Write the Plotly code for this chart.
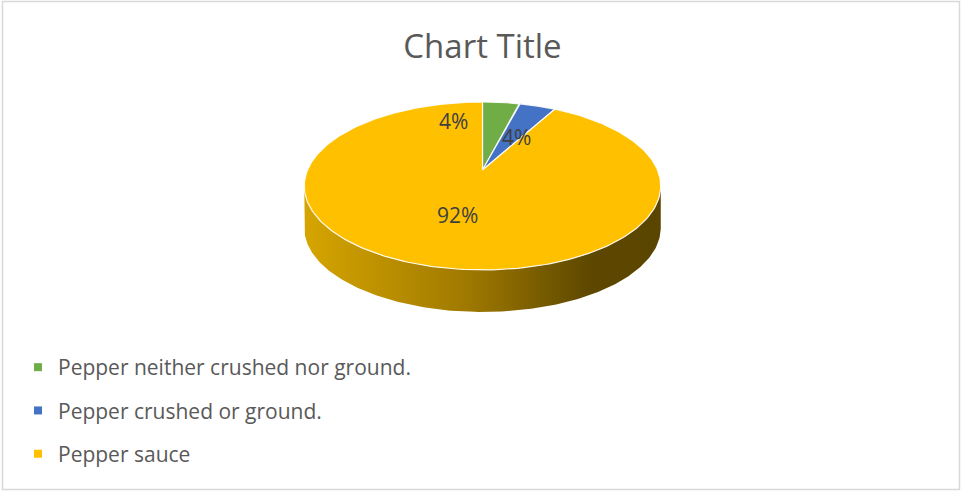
import numpy as np
import plotly.graph_objects as go

# ---- data ----
categories = ["Pepper neither crushed nor ground.", "Pepper crushed or ground.", "Pepper sauce"]
values = [4.0, 4.0, 92.0]
colors = ["#70AD47", "#4472C4", "#FFC000"]
side_scales = [
    [[0, "#8FC46A"], [0.5, "#4E7A31"], [1, "#2E4A1C"]],
    [[0, "#6C92D6"], [0.5, "#2F5597"], [1, "#1F3864"]],
    [[0, "#D6A500"], [0.45, "#A07A00"], [0.8, "#5E4800"], [1, "#5A4500"]],
]
# label placement (radius fraction, angle shift in degrees)
label_r = [0.71, 0.49, 0.52]
label_shift = [-22.7, 3.5, 0.0]

# ---- geometry (pixel space) ----
W, H = 961, 491
CX, CY = 482.5, 170.0
A, B, P = 80.95, 175.0, 0.19
DEPTH = 42.0


def proj(theta_deg, r=1.0):
    t = np.radians(theta_deg)
    u = r * np.sin(t)
    v = r * np.cos(t)
    k = 1.0 + P * v
    return CX + B * u / k, CY - A * v / k


total = float(sum(values))
bounds = np.concatenate([[0.0], np.cumsum(values) / total * 360.0])

fig = go.Figure()

# side walls (front visible arc)
front_a = np.degrees(np.arccos(-P))
front_b = 360.0 - front_a
for i in range(len(values)):
    a = max(bounds[i], front_a)
    b = min(bounds[i + 1], front_b)
    if b <= a:
        continue
    th = np.linspace(a, b, 200)
    xt, yt = proj(th)
    xs = np.concatenate([xt, xt[::-1]])
    ys = np.concatenate([yt, yt[::-1] + DEPTH])
    fig.add_trace(go.Scatter(
        x=xs, y=ys, mode="lines", fill="toself",
        line=dict(width=0, color="rgba(0,0,0,0)"),
        fillgradient=dict(type="horizontal", colorscale=side_scales[i],
                          start=float(xs.min()), stop=float(xs.max())),
        hoverinfo="skip", showlegend=False))

# top faces
for i in range(len(values)):
    th = np.linspace(bounds[i], bounds[i + 1], 300)
    xa, ya = proj(th)
    xs = np.concatenate([[CX], xa, [CX]])
    ys = np.concatenate([[CY], ya, [CY]])
    fig.add_trace(go.Scatter(
        x=xs, y=ys, mode="lines", fill="toself", fillcolor=colors[i],
        line=dict(width=1.2, color="rgba(255,255,255,0.9)"),
        hoverinfo="skip", showlegend=False))

# data labels
for i in range(len(values)):
    mid = (bounds[i] + bounds[i + 1]) / 2.0 + label_shift[i]
    lx, ly = proj(mid, label_r[i])
    fig.add_annotation(x=lx, y=ly, text=f"{round(values[i] / total * 100)}%",
                       showarrow=False, font=dict(size=21, color="#404040", family="Open Sans"))

# legend entries
for i in range(len(values)):
    fig.add_trace(go.Scatter(
        x=[None], y=[None], mode="markers", name=categories[i],
        marker=dict(symbol="square", size=8, color=colors[i]),
        legendgroup=f"g{i}", showlegend=True))

fig.add_shape(type="rect", xref="x", yref="y", x0=2.5, y0=1.5, x1=959.5, y1=489.5,
              line=dict(color="#D9D9D9", width=1.5), layer="above")

fig.update_layout(
    width=W, height=H,
    margin=dict(l=0, r=0, t=0, b=0),
    paper_bgcolor="white", plot_bgcolor="white",
    title=dict(text="Chart Title", x=CX / W, xanchor="center", y=1 - 46 / H, yanchor="middle",
               font=dict(size=33, color="#595959", family="Open Sans")),
    xaxis=dict(range=[0, W], visible=False, fixedrange=True),
    yaxis=dict(range=[H, 0], visible=False, fixedrange=True),
    showlegend=True,
    legend=dict(x=18 / W, xanchor="left", y=1 - 347 / H, yanchor="top",
                font=dict(size=21, color="#595959", family="Open Sans"),
                tracegroupgap=13, bgcolor="rgba(0,0,0,0)", traceorder="grouped"),
)

fig.write_html("out.html")
